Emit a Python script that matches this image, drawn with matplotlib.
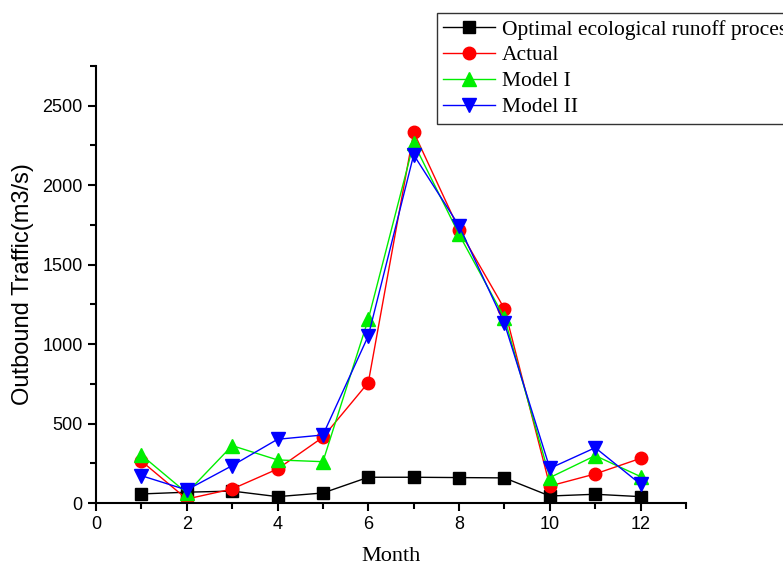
import numpy as np
import matplotlib
matplotlib.use('Agg')
import matplotlib.pyplot as plt
from matplotlib.ticker import MultipleLocator

months = [1, 2, 3, 4, 5, 6, 7, 8, 9, 10, 11, 12]
optimal = [57, 68, 75, 40, 63, 162, 162, 160, 158, 44, 55, 40]
actual = [264, 25, 88, 214, 414, 758, 2334, 1719, 1222, 107, 183, 281]
model_1 = [302, 63, 361, 271, 260, 1157, 2265, 1690, 1165, 160, 298, 166]
model_2 = [172, 82, 235, 401, 428, 1052, 2191, 1744, 1130, 218, 348, 118]

labels = ['Optimal ecological runoff process', 'Actual', 'Model I', 'Model II']

fig = plt.figure(figsize=(7.83, 5.66), dpi=100)
ax = fig.add_axes([96 / 783, 1 - 503 / 566, (686 - 96) / 783, (503 - 66) / 566])

ax.plot(months, optimal, '-s', c='black', lw=1, ms=8, label=labels[0])
ax.plot(months, actual, '-o', c='red', lw=1, ms=9, label=labels[1])
ax.plot(months, model_1, '-^', c='#00ee00', lw=1, ms=10, label=labels[2])
ax.plot(months, model_2, '-v', c='blue', lw=1, ms=10, label=labels[3])

ax.set_xlim(0, 13)
ax.set_ylim(0, 2750)
ax.xaxis.set_major_locator(MultipleLocator(2))
ax.xaxis.set_minor_locator(MultipleLocator(1))
ax.yaxis.set_major_locator(MultipleLocator(500))
ax.yaxis.set_minor_locator(MultipleLocator(250))
ax.spines['top'].set_visible(False)
ax.spines['right'].set_visible(False)
ax.spines['left'].set_linewidth(1.5)
ax.spines['bottom'].set_linewidth(1.5)
ax.tick_params(which='major', direction='out', length=6, width=1.5,
               labelsize=13)
ax.tick_params(which='minor', direction='out', length=4, width=1.5)
for t in ax.get_xticklabels() + ax.get_yticklabels():
    t.set_fontfamily('Liberation Sans')

ax.set_xlabel('Month', fontfamily='Liberation Serif', fontsize=16, labelpad=10)
ax.set_ylabel('Outbound Traffic(m3/s)', fontfamily='Liberation Sans',
              fontsize=17, labelpad=6)

# legend box runs past the right edge, as in the source figure
leg = fig.legend(loc='upper left', bbox_to_anchor=(437 / 783, 1 - 13 / 566),
                 prop={'family': 'Liberation Serif', 'size': 15.5},
                 frameon=True, fancybox=False, edgecolor='black',
                 borderaxespad=0, labelspacing=0.27, handlelength=2.4,
                 handletextpad=0.3, borderpad=0.3)
leg.get_frame().set_linewidth(1.0)

fig.savefig('out.png', dpi=100)
